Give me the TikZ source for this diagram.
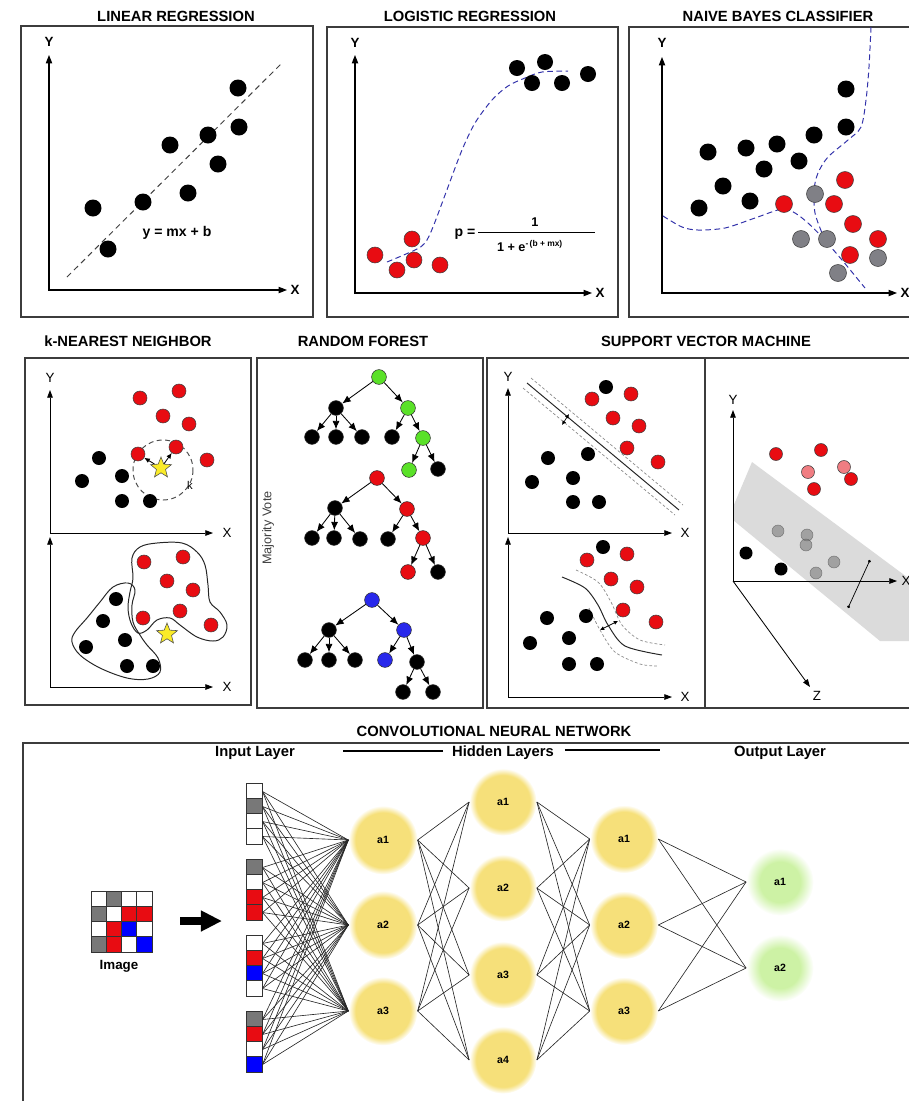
\documentclass[tikz,border=0pt]{standalone}
\usepackage{fontspec}
\setmainfont{Liberation Sans}
\usetikzlibrary{arrows.meta,shapes.geometric}

\definecolor{dotred}{RGB}{232,12,18}
\definecolor{dotpink}{RGB}{240,125,130}
\definecolor{dotgray}{RGB}{128,128,134}
\definecolor{boundblue}{RGB}{50,50,170}
\definecolor{leafgreen}{RGB}{90,225,40}
\definecolor{leafblue}{RGB}{40,40,235}
\definecolor{pixgray}{RGB}{120,120,120}
\definecolor{nodeyellow}{RGB}{246,224,122}
\definecolor{nodegreen}{RGB}{205,242,165}
\definecolor{framegray}{RGB}{60,60,60}
\definecolor{staryellow}{RGB}{250,235,40}

\pgfdeclareradialshading{yellowglow}{\pgfpointorigin}{color(0bp)=(nodeyellow); color(20bp)=(nodeyellow); color(25bp)=(white); color(50bp)=(white)}
\pgfdeclareradialshading{greenglow}{\pgfpointorigin}{color(0bp)=(nodegreen); color(15bp)=(nodegreen); color(25bp)=(white); color(50bp)=(white)}

\begin{document}
\begin{tikzpicture}[x=0.025cm, y=-0.025cm,
  panel/.style={draw=framegray, line width=0.9pt},
  panel head/.style={font=\fontsize{10.5}{12}\selectfont\bfseries},
  plot axis/.style={line width=0.8pt, {Triangle[length=6pt,width=4.5pt]}-{Triangle[length=6pt,width=4.5pt]}},
  thin axis/.style={line width=0.6pt, {Triangle[length=5.5pt,width=4pt]}-{Triangle[length=5.5pt,width=4pt]}},
  bold label/.style={font=\fontsize{9.5}{11}\selectfont\bfseries},
  plain label/.style={font=\fontsize{9.5}{11}\selectfont},
  bdot/.style={fill=black},
  rdot/.style={fill=dotred, draw=black!75, line width=0.4pt},
  gdot/.style={fill=dotgray, draw=black!75, line width=0.4pt},
  boundary line/.style={boundblue, line width=0.7pt, dash pattern=on 4pt off 2.5pt},
  tnode/.style={circle, minimum size=0.37cm, inner sep=0pt, draw=black!80, line width=0.4pt},
  tedge/.style={line width=0.6pt, -{Latex[length=6pt,width=5pt]}},
  rnode/.style={circle, minimum size=0.35cm, inner sep=0pt, fill=dotred, draw=black!75, line width=0.4pt},
  pixel/.style={draw=black!80, line width=0.6pt, minimum size=0.38cm, inner sep=0pt},
  neuron/.style={circle, shade, shading=yellowglow, minimum size=1.72cm, inner sep=0pt, font=\fontsize{7.5}{8}\selectfont\bfseries},
  out neuron/.style={neuron, shading=greenglow},
  link/.style={line width=0.45pt, black!85},
]
\useasboundingbox (0,0) rectangle (909,1101);
\clip (0,0) rectangle (909,1101);

% frames
\draw[panel] (21,26) rectangle (313,317);
\draw[panel] (327,27) rectangle (618,317);
\draw[panel] (629,27) rectangle (930,317);
\draw[panel] (25,358) rectangle (251,705);
\draw[panel] (257,358) rectangle (483,708);
\draw[panel] (487,358) rectangle (705,708);
\draw[panel] (705,358) rectangle (930,708);
\draw[panel] (23,743) rectangle (930,1120);

% titles
\node[panel head] (t-lin) at (176,16) {LINEAR REGRESSION};
\node[panel head] (t-log) at (470,16) {LOGISTIC REGRESSION};
\node[panel head] (t-nb) at (778,16) {NAIVE BAYES CLASSIFIER};
\node[panel head] (t-knn) at (128,341) {k-NEAREST NEIGHBOR};
\node[panel head] (t-rf) at (363,341) {RANDOM FOREST};
\node[panel head] (t-svm) at (706,341) {SUPPORT VECTOR MACHINE};
\node[panel head] (t-cnn) at (494,731) {CONVOLUTIONAL NEURAL NETWORK};

% linear regression
\draw[plot axis] (49,55) -- (49,290) -- (287,290);
\node[bold label] (lin-y) at (49,42) {Y};
\node[bold label] (lin-x) at (295,290) {X};
\draw[black!75, line width=0.7pt, dash pattern=on 4pt off 3pt] (67,277) -- (283,62);
\foreach \x/\y in {238/88, 239/127, 208/135, 170/145, 218/164, 188/193, 143/202, 93/208, 108/249}
  \fill[bdot] (\x,\y) circle (8.5);
\node[font=\fontsize{10}{12}\selectfont\bfseries] (lin-eq) at (177,233) {y = mx + b};

% logistic regression
\draw[plot axis] (355,55) -- (355,293) -- (592,293);
\node[bold label] (log-y) at (355,43) {Y};
\node[bold label] (log-x) at (600,293) {X};
\draw[boundary line] plot[smooth] coordinates {(387,262) (415,250) (425,243) (433,227) (448,187) (462,150) (475,123) (492,100) (508,86) (525,78) (542,72) (568,71)};
\foreach \x/\y in {517/68, 545/62, 532/83, 562/83, 588/74}
  \fill[bdot] (\x,\y) circle (8);
\foreach \x/\y in {375/255, 412/239, 397/270, 414/260, 440/265}
  \draw[rdot] (\x,\y) circle (8);
\node[font=\fontsize{10}{12}\selectfont\bfseries] (log-p) at (465,234) {p =};
\draw[line width=0.6pt] (478,232) -- (595,232);
\node[font=\fontsize{9}{11}\selectfont\bfseries] (log-num) at (535,222) {1};
\node[font=\fontsize{9}{11}\selectfont\bfseries] (log-den) at (530,246) {1 + e\textsuperscript{-\,(b + mx)}};

% naive bayes
\draw[plot axis] (662,57) -- (662,293) -- (897,293);
\node[bold label] (nb-y) at (662,43) {Y};
\node[bold label] (nb-x) at (905,293) {X};
\draw[boundary line] plot[smooth] coordinates {(663,216) (682,227) (698,230) (725,228) (755,218) (782,209) (795,213) (808,223) (822,237) (842,260) (865,288)};
\draw[boundary line] plot[smooth] coordinates {(871,27) (869,67) (866,100) (861,127) (848,140) (828,157) (818,173) (814,190) (815,213) (822,233)};
\foreach \x/\y in {846/89, 846/127, 814/135, 777/144, 746/148, 708/152, 799/161, 764/169, 723/186, 750/201, 699/208}
  \fill[bdot] (\x,\y) circle (8.5);
\foreach \x/\y in {845/180, 784/204, 834/204, 853/224, 878/239, 850/255}
  \draw[rdot] (\x,\y) circle (8.5);
\foreach \x/\y in {815/194, 801/239, 827/239, 878/258, 838/273}
  \draw[gdot] (\x,\y) circle (8.5);

% k-nearest neighbor
\draw[thin axis] (50,390) -- (50,533) -- (213,533);
\draw[thin axis] (50,537) -- (50,687) -- (213,687);
\node[plain label] (knn-y) at (50,378) {Y};
\node[plain label] (knn-x1) at (227,533) {X};
\node[plain label] (knn-x2) at (227,687) {X};
\draw[black!70, line width=0.7pt, dash pattern=on 3.5pt off 2.5pt] (163,470) circle (30);
\node[font=\fontsize{8}{9}\selectfont] (knn-k) at (190,485) {k};
\foreach \x/\y [count=\i] in {140/398, 179/391, 163/416, 189/424, 138/454, 176/447, 207/460}
  \node[rnode] (kr\i) at (\x,\y) {};
\foreach \x/\y in {99/458, 82/481, 122/476, 122/501, 150/501}
  \fill[bdot] (\x,\y) circle (7);
\node[star, star points=5, star point ratio=2.3, fill=staryellow, draw=black!70, line width=0.4pt, minimum size=0.55cm, inner sep=0pt] (kstar) at (161,468) {};
\draw[line width=0.6pt, -{Latex[length=4pt,width=3.5pt]}] (kstar) -- (kr5);
\draw[line width=0.6pt, -{Latex[length=4pt,width=3.5pt]}] (kstar) -- (kr6);
% grouped classes
\draw[line width=0.7pt, black!85] plot[smooth cycle, tension=0.6] coordinates {(132,558) (140,547) (157,543) (182,543) (197,552) (205,565) (208,585) (210,602) (220,612) (227,625) (223,637) (213,641) (197,637) (180,625) (170,618) (157,620) (147,630) (138,633) (131,623) (128,608) (130,592) (133,578)};
\draw[line width=0.7pt, black!85] plot[smooth cycle, tension=0.6] coordinates {(72,642) (80,655) (100,668) (127,678) (148,679) (160,672) (158,658) (147,645) (140,635) (133,622) (132,605) (135,590) (128,583) (113,587) (100,602) (87,618) (75,632)};
\foreach \x/\y in {144/562, 183/557, 167/581, 193/590, 180/611, 143/618, 211/625}
  \draw[rdot] (\x,\y) circle (7);
\foreach \x/\y in {116/599, 103/621, 125/640, 86/647, 127/666, 153/666}
  \fill[bdot] (\x,\y) circle (7);
\node[star, star points=5, star point ratio=2.3, fill=staryellow, draw=black!70, line width=0.4pt, minimum size=0.55cm, inner sep=0pt] (kstar2) at (167,634) {};

% random forest
\node[font=\fontsize{9}{10}\selectfont, text=black!75, rotate=90] (rf-vote) at (268,528) {Majority Vote};
\node[tnode, fill=leafgreen] (ta) at (379,377) {};
\node[tnode, fill=black] (tb) at (336,408) {};
\node[tnode, fill=leafgreen] (tc) at (408,408) {};
\node[tnode, fill=black] (td) at (312,437) {};
\node[tnode, fill=black] (te) at (336,437) {};
\node[tnode, fill=black] (tf) at (362,437) {};
\node[tnode, fill=black] (tg) at (392,437) {};
\node[tnode, fill=leafgreen] (th) at (423,438) {};
\node[tnode, fill=leafgreen] (ti) at (409,470) {};
\node[tnode, fill=black] (tj) at (438,469) {};
\node[tnode, fill=dotred] (ua) at (377,478) {};
\node[tnode, fill=black] (ub) at (335,508) {};
\node[tnode, fill=dotred] (uc) at (407,509) {};
\node[tnode, fill=black] (ud) at (312,538) {};
\node[tnode, fill=black] (ue) at (334,538) {};
\node[tnode, fill=black] (uf) at (360,539) {};
\node[tnode, fill=black] (ug) at (388,539) {};
\node[tnode, fill=dotred] (uh) at (423,538) {};
\node[tnode, fill=dotred] (ui) at (408,572) {};
\node[tnode, fill=black] (uj) at (438,572) {};
\node[tnode, fill=leafblue] (va) at (372,600) {};
\node[tnode, fill=black] (vb) at (329,630) {};
\node[tnode, fill=leafblue] (vc) at (404,630) {};
\node[tnode, fill=black] (vd) at (305,660) {};
\node[tnode, fill=black] (ve) at (329,660) {};
\node[tnode, fill=black] (vf) at (355,660) {};
\node[tnode, fill=leafblue] (vg) at (385,660) {};
\node[tnode, fill=black] (vh) at (417,662) {};
\node[tnode, fill=black] (vi) at (403,692) {};
\node[tnode, fill=black] (vj) at (433,692) {};
\foreach \t in {t,u,v}
  \foreach \p/\c in {a/b, a/c, b/d, b/e, b/f, c/g, c/h}
    \draw[tedge] (\t\p) -- (\t\c);
\draw[tedge] (th) -- (ti);
\draw[tedge] (th) -- (tj);
\draw[tedge] (uh) -- (ui);
\draw[tedge] (uh) -- (uj);
\draw[tedge] (vh) -- (vi);
\draw[tedge] (vh) -- (vj);

% support vector machine, 2d
\draw[thin axis] (508,388) -- (508,533) -- (672,533);
\draw[thin axis] (508,537) -- (508,697) -- (672,697);
\node[plain label] (svm-y) at (508,377) {Y};
\node[plain label] (svm-x1) at (685,533) {X};
\node[plain label] (svm-x2) at (685,697) {X};
\draw[line width=0.7pt, black!85] (527,383) -- (679,510);
\draw[black!45, line width=0.5pt, dash pattern=on 2pt off 1.5pt] (531,378) -- (683,505);
\draw[black!45, line width=0.5pt, dash pattern=on 2pt off 1.5pt] (523,388) -- (675,515);
\draw[line width=0.5pt, {Latex[length=3pt,width=3pt]}-{Latex[length=3pt,width=3pt]}] (562,425) -- (569,414);
\draw[line width=0.7pt, black!85] plot[smooth] coordinates {(562,577) (585,588) (598,605) (608,625) (625,646) (662,655)};
\draw[black!45, line width=0.5pt, dash pattern=on 2pt off 1.5pt] plot[smooth] coordinates {(576,570) (598,582) (611,602) (622,625) (640,640) (665,645)};
\draw[black!45, line width=0.5pt, dash pattern=on 2pt off 1.5pt] plot[smooth] coordinates {(589,608) (600,630) (615,652) (640,664) (657,666)};
\draw[line width=0.5pt, {Latex[length=3pt,width=3pt]}-{Latex[length=3pt,width=3pt]}] (600,630) -- (618,621);
\foreach \x/\y in {606/387, 548/458, 588/454, 532/482, 573/478, 573/502, 599/502, 603/547, 547/618, 586/616, 530/643, 569/638, 569/664, 597/664}
  \fill[bdot] (\x,\y) circle (7);
\foreach \x/\y in {592/399, 631/394, 613/418, 639/426, 627/448, 658/462, 587/560, 627/554, 611/579, 637/587, 623/610, 656/622}
  \draw[rdot] (\x,\y) circle (7);

% support vector machine, 3d
\fill[black!14] (752,462) -- (915,583) -- (915,641) -- (880,641) -- (733,520) -- (733,507) -- cycle;
\draw[thin axis] (733,410) -- (733,581) -- (897,581);
\draw[line width=0.6pt, -{Triangle[length=5.5pt,width=4pt]}] (733,581) -- (810,687);
\node[plain label] (svm3-y) at (733,400) {Y};
\node[plain label] (svm3-x) at (906,581) {X};
\node[plain label] (svm3-z) at (817,696) {Z};
\foreach \x/\y in {776/454, 821/450, 851/479, 814/489}
  \draw[rdot] (\x,\y) circle (6.5);
\foreach \x/\y in {808/472, 844/467}
  \draw[rdot, fill=dotpink] (\x,\y) circle (6.5);
\foreach \x/\y in {746/553, 781/569}
  \fill[bdot] (\x,\y) circle (6.5);
\foreach \x/\y in {778/531, 807/535, 806/545, 834/562, 816/573}
  \draw[fill=black!55, draw=black!70, opacity=0.55] (\x,\y) circle (6);
\draw[line width=0.5pt, {Circle[length=2pt]}-{Circle[length=2pt]}] (848,608) -- (870,560);

% convolutional neural network
\node[panel head] (cnn-in) at (255,753) {Input Layer};
\node[panel head] (cnn-hid) at (503,753) {Hidden Layers};
\node[panel head] (cnn-out) at (780,753) {Output Layer};
\draw[line width=0.8pt] (cnn-hid.west) ++(-4,-2) coordinate (hl) -- ++(-100,0);
\draw[line width=0.8pt] (cnn-hid.east) ++(6,-3) coordinate (hr) -- ++(95,0);

\foreach \g/\cols in {1/{white,pixgray,white,white}, 2/{pixgray,white,dotred,dotred}, 3/{white,dotred,blue,white}, 4/{pixgray,dotred,white,blue}}
  \foreach \c [count=\k] in \cols {
    \node[pixel, fill=\c] (img-\g-\k) at ({91+15.25*(\k-0.5)},{891+15.25*(\g-0.5)}) {};
    \node[pixel, fill=\c] (in-\g-\k) at (254.5,{784+76*(\g-1)+15*(\k-0.5)}) {};
  }
\node[font=\fontsize{9.5}{11}\selectfont\bfseries] (img-label) at (119,966) {Image};
\coordinate (feed-a) at (180,921);
\coordinate (feed-b) at (222,921);
\draw[line width=5pt, -{Triangle[length=15pt,width=14pt]}] (feed-a) -- (feed-b);

\foreach \i/\y in {1/840, 2/925, 3/1011}
  \node[neuron] (h\i) at (383,\y) {a\i};
\foreach \i/\y in {1/802, 2/888, 3/975, 4/1060}
  \node[neuron, minimum size=1.68cm] (k\i) at (503,\y) {a\i};
\foreach \i/\y in {1/839, 2/925, 3/1011}
  \node[neuron, minimum size=1.7cm] (m\i) at (624,\y) {a\i};
\foreach \i/\y in {1/882, 2/968}
  \node[out neuron, minimum size=1.68cm] (o\i) at (780,\y) {a\i};

\foreach \g in {1,...,4}
  \foreach \k in {1,...,4}
    \foreach \j in {1,2,3}
      \draw[link] (in-\g-\k.east) -- (h\j.west);
\foreach \i in {1,2,3}
  \foreach \j in {1,...,4}
    \draw[link] (h\i.east) -- (k\j.west);
\foreach \i in {1,...,4}
  \foreach \j in {1,2,3}
    \draw[link] (k\i.east) -- (m\j.west);
\foreach \i in {1,2,3}
  \foreach \j in {1,2}
    \draw[link] (m\i.east) -- (o\j.west);
\end{tikzpicture}
\end{document}
